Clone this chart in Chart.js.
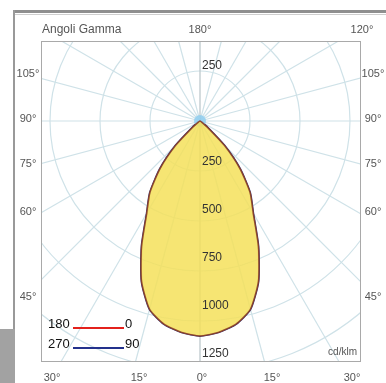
<!DOCTYPE html>
<html>
<head>
<meta charset="utf-8">
<script src="https://cdn.jsdelivr.net/npm/chart.js@4.4.0/dist/chart.umd.min.js"></script>
<style>
  html, body { margin: 0; padding: 0; background: #fff; }
  body { width: 386px; height: 383px; position: relative; overflow: hidden;
         font-family: "Liberation Sans", Arial, sans-serif; }
  .frameTop { position: absolute; left: 13px; top: 10px; width: 373px; height: 3px; background: #8f8f8f; }
  .frameTop2 { position: absolute; left: 15px; top: 14px; width: 371px; height: 1px; background: #cfcfcf; }
  .frameLeft { position: absolute; left: 13px; top: 10px; width: 2px; height: 319px; background: #999; }
  .cornerBlock { position: absolute; left: 0; top: 329px; width: 15px; height: 54px; background: #a2a2a2; }
  #plotBorder { position: absolute; left: 41px; top: 41px; width: 320px; height: 321px;
                box-sizing: border-box; border: 1px solid #a9a9a9; }
  #plot { position: absolute; left: 42px; top: 42px; width: 318px; height: 319px; overflow: hidden; }
  #plot canvas { position: absolute; left: -142px; top: -221px; }
  .lbl { position: absolute; font-size: 11px; color: #555; white-space: nowrap;
         line-height: 14px; transform: translate(-50%, -50%); }
  .leg { position: absolute; font-size: 13px; color: #111; line-height: 16px; white-space: nowrap; }
  .legLine { position: absolute; height: 2px; }
</style>
</head>
<body>
<div class="frameTop"></div>
<div class="frameTop2"></div>
<div class="frameLeft"></div>
<div class="cornerBlock"></div>

<div id="plot"><canvas id="polar" width="600" height="600"></canvas></div>
<div id="plotBorder"></div>
<div id="labels"></div>

<script>
// gamma angles, 5 degree steps (0 = straight down)
const gammaAngles = [0, 5, 10, 15, 20, 25, 30, 35, 40, 45, 50, 55, 60, 65, 70, 75, 80, 85, 90,
  95, 100, 105, 110, 115, 120, 125, 130, 135, 140, 145, 150, 155, 160, 165, 170, 175, 180];

// intensities in cd/klm, C0 / C180 plane (red) and C90 / C270 plane (blue)
const c0   = [1120, 1105, 1075, 1015, 890, 720, 555, 455, 325, 180, 50, 10, 0, 0, 0, 0, 0, 0, 0,
  0, 0, 0, 0, 0, 0, 0, 0, 0, 0, 0, 0, 0, 0, 0, 0, 0, 0];
const c180 = [1120, 1105, 1075, 1015, 890, 720, 555, 455, 325, 180, 50, 10, 0, 0, 0, 0, 0, 0, 0,
  0, 0, 0, 0, 0, 0, 0, 0, 0, 0, 0, 0, 0, 0, 0, 0, 0, 0];
const c90  = [1120, 1105, 1075, 1015, 890, 720, 555, 455, 325, 180, 50, 10, 0, 0, 0, 0, 0, 0, 0,
  0, 0, 0, 0, 0, 0, 0, 0, 0, 0, 0, 0, 0, 0, 0, 0, 0, 0];
const c270 = [1120, 1105, 1075, 1015, 890, 720, 555, 455, 325, 180, 50, 10, 0, 0, 0, 0, 0, 0, 0,
  0, 0, 0, 0, 0, 0, 0, 0, 0, 0, 0, 0, 0, 0, 0, 0, 0, 0];

// radial tick labels
const downTicks = [250, 500, 750, 1000, 1250];
const upTicks = [250];

// angle labels around the frame
const leftLabels = ['105°', '90°', '75°', '60°', '45°'];
const rightLabels = ['105°', '90°', '75°', '60°', '45°'];
const bottomLabels = ['30°', '15°', '0°', '15°', '30°'];
const topLabels = ['180°', '120°'];
const titleText = 'Angoli Gamma';
const unitText = 'cd/klm';
const legendRows = [['180', '0', '#e3211c'], ['270', '90', '#23318c']];

// full ring: index 0 points down, indices grow clockwise (left side first)
const ring = (left, right) => left.concat(right.slice(1, 36).reverse());
const ringLabels = ring(gammaAngles, gammaAngles).map(g => g + '°');

const tickLabelPlugin = {
  id: 'tickLabels',
  afterDatasetsDraw(chart) {
    const scale = chart.scales.r;
    const c = chart.ctx;
    c.save();
    c.font = '12px "Liberation Sans", Arial, sans-serif';
    c.fillStyle = '#333';
    c.textAlign = 'left';
    c.textBaseline = 'middle';
    downTicks.forEach(v => {
      const p = scale.getPointPositionForValue(0, v);
      c.fillText(String(v), p.x + 2, p.y - 7);
    });
    upTicks.forEach(v => {
      const p = scale.getPointPositionForValue(36, v);
      c.fillText(String(v), p.x + 2, p.y - 7);
    });
    c.restore();
  }
};

new Chart(document.getElementById('polar'), {
  type: 'radar',
  data: {
    labels: ringLabels,
    datasets: [
      {
        label: '180 - 0',
        data: ring(c180, c0),
        borderColor: 'rgba(140,60,35,0.9)',
        borderWidth: 1.4,
        backgroundColor: 'rgba(244,224,90,0.85)',
        fill: true,
        pointRadius: 0,
        order: 1
      },
      {
        label: '270 - 90',
        data: ring(c270, c90),
        borderColor: '#3b3a78',
        borderWidth: 2,
        fill: false,
        pointRadius: ctx => ctx.dataIndex === 36 ? 6 : 0,
        pointBackgroundColor: 'rgba(140,205,240,0.8)',
        pointBorderWidth: 0,
        order: 2
      }
    ]
  },
  options: {
    responsive: false,
    animation: false,
    events: [],
    plugins: { legend: { display: false }, tooltip: { enabled: false } },
    elements: { line: { tension: 0.2 } },
    scales: {
      r: {
        min: 0,
        max: 1562.5,
        startAngle: 180,
        ticks: { display: false, stepSize: 250 },
        pointLabels: { display: false },
        grid: { circular: true, color: '#cfe2e8', lineWidth: 1.2 },
        angleLines: {
          color: ctx => (ctx.index % 36 === 0) ? '#b7c4c8' : '#cfe2e8',
          lineWidth: ctx => (ctx.index % 3 === 0) ? 1.2 : 0
        }
      }
    }
  },
  plugins: [tickLabelPlugin]
});

// text around the frame
const holder = document.getElementById('labels');
function addLabel(text, x, y, cls) {
  const el = document.createElement('div');
  el.className = cls || 'lbl';
  el.textContent = text;
  el.style.left = x + 'px';
  el.style.top = y + 'px';
  holder.appendChild(el);
  return el;
}

const sideY = [73, 118, 163, 211, 296];
leftLabels.forEach((t, i) => addLabel(t, 28, sideY[i]));
rightLabels.forEach((t, i) => addLabel(t, 373, sideY[i]));
const bottomX = [52, 139, 202, 272, 352];
bottomLabels.forEach((t, i) => addLabel(t, bottomX[i], 377));
addLabel(topLabels[0], 200, 29);
addLabel(topLabels[1], 362, 29);

const title = addLabel(titleText, 42, 29);
title.style.transform = 'translate(0, -50%)';
title.style.fontSize = '12px';
const unit = addLabel(unitText, 357, 352);
unit.style.transform = 'translate(-100%, -50%)';
unit.style.fontSize = '10px';

legendRows.forEach((row, i) => {
  const y = 316 + i * 20;
  addLabel(row[0], 48, y, 'leg');
  addLabel(row[1], 125, y, 'leg');
  const line = document.createElement('div');
  line.className = 'legLine';
  line.style.left = '73px';
  line.style.top = (y + 11) + 'px';
  line.style.width = '51px';
  line.style.background = row[2];
  holder.appendChild(line);
});
</script>
</body>
</html>
